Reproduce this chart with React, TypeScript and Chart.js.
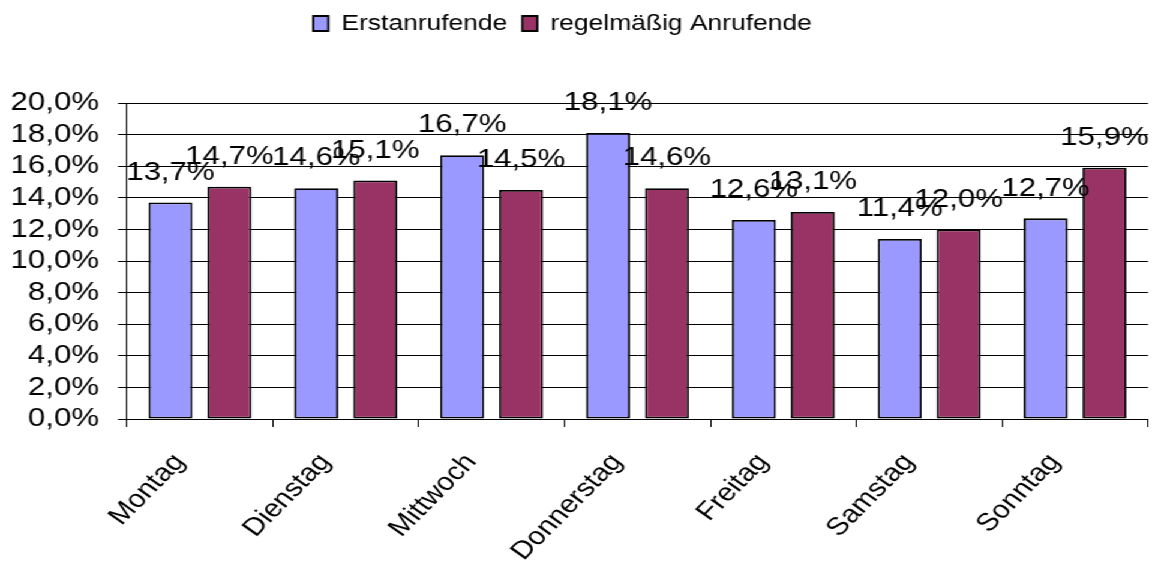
import React, { useEffect, useRef } from 'react';
import { Chart, registerables } from 'chart.js';

Chart.register(...registerables);

// ---- data ----
const categories = ['Montag', 'Dienstag', 'Mittwoch', 'Donnerstag', 'Freitag', 'Samstag', 'Sonntag'];
const seriesNames = ['Erstanrufende', 'regelmäßig Anrufende'];
const erstanrufende = [13.7, 14.6, 16.7, 18.1, 12.6, 11.4, 12.7];
const regelmaessig = [14.7, 15.1, 14.5, 14.6, 13.1, 12.0, 15.9];
const yMin = 0;
const yMax = 20;
const yStep = 2;

// ---- layout (canvas is drawn 960 wide and stretched horizontally) ----
const SX = 1.2;
const W = 960;
const H = 565;
const FONT = '"Liberation Sans", Arial, sans-serif';

const fmt = (v: number) => v.toFixed(1).replace('.', ',') + '%';

const dataLabels = {
  id: 'dataLabels',
  afterDatasetsDraw(chart: any) {
    const ctx = chart.ctx;
    ctx.save();
    ctx.font = `26px ${FONT}`;
    ctx.fillStyle = '#000';
    ctx.textAlign = 'center';
    ctx.textBaseline = 'middle';
    chart.data.datasets.forEach((ds: any, i: number) => {
      const meta = chart.getDatasetMeta(i);
      meta.data.forEach((bar: any, j: number) => {
        ctx.fillText(fmt(ds.data[j]), bar.x, bar.y - 30);
      });
    });
    ctx.restore();
  },
};

const legendLayout = {
  id: 'legendLayout',
  beforeInit(chart: any) {
    const lg = chart.legend;
    if (!lg) return;
    const orig = lg.fit;
    lg.fit = function () {
      orig.call(this);
      this.height = 103;
    };
  },
  afterLayout(chart: any) {
    const lg = chart.legend;
    if (!lg) return;
    const target = 562.5 / SX;
    const d = target - (lg.left + lg.right) / 2;
    lg.left += d;
    lg.right += d;
  },
};

export default function App() {
  const ref = useRef<HTMLCanvasElement | null>(null);

  useEffect(() => {
    if (!ref.current) return;
    Chart.defaults.font.family = FONT;
    Chart.defaults.color = '#000';
    const chart = new Chart(ref.current, {
      type: 'bar',
      data: {
        labels: categories,
        datasets: [
          {
            label: seriesNames[0],
            data: erstanrufende,
            backgroundColor: '#9999FF',
            borderColor: '#000',
            borderWidth: 1.8,
            borderSkipped: false,
            categoryPercentage: 0.808,
            barPercentage: 0.746,
          },
          {
            label: seriesNames[1],
            data: regelmaessig,
            backgroundColor: '#993366',
            borderColor: '#000',
            borderWidth: 1.8,
            borderSkipped: false,
            categoryPercentage: 0.808,
            barPercentage: 0.746,
          },
        ],
      },
      options: {
        responsive: false,
        animation: false,
        layout: { padding: { left: 0, right: W - 1148 / SX, top: 0, bottom: 0 } },
        plugins: {
          legend: {
            position: 'top',
            labels: {
              font: { size: 22, family: FONT },
              color: '#000',
              boxWidth: 12.5,
              boxHeight: 15,
              padding: 12.5,
            },
          },
          tooltip: { enabled: false },
        },
        scales: {
          x: {
            afterFit(scale: any) {
              scale.height = 146;
            },
            grid: {
              display: true,
              drawOnChartArea: false,
              drawTicks: true,
              tickLength: 8,
              color: '#000',
              offset: true,
            },
            border: { display: true, color: '#000', width: 1 },
            ticks: {
              autoSkip: false,
              maxRotation: 50,
              minRotation: 50,
              labelOffset: -17,
              padding: 21,
              font: { size: 25, family: FONT },
              color: '#000',
            },
          },
          y: {
            min: yMin,
            max: yMax,
            afterFit(scale: any) {
              scale.width = 127 / SX;
            },
            grid: {
              color: '#000',
              lineWidth: 1,
              tickLength: 7.5,
            },
            border: { display: true, color: '#000', width: 1 },
            ticks: {
              autoSkip: false,
              stepSize: yStep,
              padding: 15.8,
              font: { size: 26, family: FONT },
              color: '#000',
              callback: (v: any) => fmt(Number(v)),
            },
          },
        },
      },
      plugins: [dataLabels, legendLayout],
    } as any);
    return () => chart.destroy();
  }, []);

  return (
    <div
      style={{
        position: 'fixed',
        left: 0,
        top: 0,
        width: W,
        height: H,
        transform: `scaleX(${SX})`,
        transformOrigin: '0 0',
        background: '#fff',
      }}
    >
      <canvas ref={ref} width={W} height={H} style={{ display: 'block' }} />
    </div>
  );
}
